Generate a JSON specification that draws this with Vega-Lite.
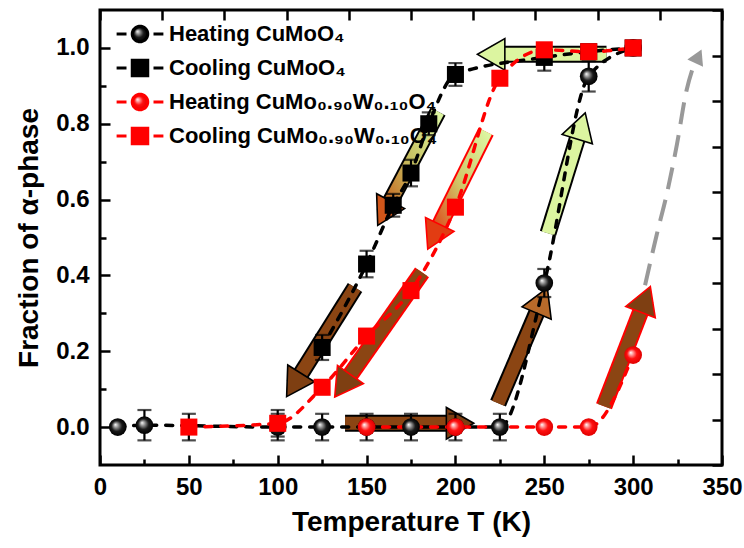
{
  "$schema": "https://vega.github.io/schema/vega-lite/v6.json",
  "width": 622,
  "height": 455,
  "autosize": "none",
  "padding": {"left": 100, "top": 10, "right": 22, "bottom": 83},
  "background": "white",
  "config": {
    "view": {"stroke": "#000000", "strokeWidth": 3},
    "font": "Liberation Sans",
    "axis": {"grid": false, "domain": false, "tickColor": "#000000", "tickWidth": 2.5, "labelFlush": false, "labelOverlap": false}
  },
  "resolve": {"axis": {"x": "independent", "y": "independent"}},
  "datasets": {
    "pts": [
      {"s": "Heating CuMoO₄", "T": 10, "v": 0.0, "err": null},
      {"s": "Heating CuMoO₄", "T": 25, "v": 0.005, "err": 0.04},
      {"s": "Heating CuMoO₄", "T": 100, "v": 0.0, "err": 0.035},
      {"s": "Heating CuMoO₄", "T": 125, "v": 0.0, "err": 0.035},
      {"s": "Heating CuMoO₄", "T": 150, "v": 0.0, "err": 0.035},
      {"s": "Heating CuMoO₄", "T": 175, "v": 0.0, "err": 0.035},
      {"s": "Heating CuMoO₄", "T": 200, "v": 0.0, "err": 0.035},
      {"s": "Heating CuMoO₄", "T": 225, "v": 0.0, "err": 0.035},
      {"s": "Heating CuMoO₄", "T": 250, "v": 0.38, "err": 0.037},
      {"s": "Heating CuMoO₄", "T": 275, "v": 0.925, "err": 0.04},
      {"s": "Heating CuMoO₄", "T": 300, "v": 1.0, "err": null},
      {"s": "Cooling CuMoO₄", "T": 125, "v": 0.21, "err": 0.033},
      {"s": "Cooling CuMoO₄", "T": 150, "v": 0.43, "err": 0.035},
      {"s": "Cooling CuMoO₄", "T": 165, "v": 0.585, "err": 0.03},
      {"s": "Cooling CuMoO₄", "T": 175, "v": 0.67, "err": 0.035},
      {"s": "Cooling CuMoO₄", "T": 185, "v": 0.8, "err": 0.03},
      {"s": "Cooling CuMoO₄", "T": 200, "v": 0.93, "err": 0.03},
      {"s": "Cooling CuMoO₄", "T": 250, "v": 0.975, "err": 0.035},
      {"s": "Cooling CuMoO₄", "T": 275, "v": 0.99, "err": null},
      {"s": "Cooling CuMoO₄", "T": 300, "v": 1.0, "err": null},
      {"s": "Heating CuMo₀.₉₀W₀.₁₀O₄", "T": 150, "v": 0.0, "err": null},
      {"s": "Heating CuMo₀.₉₀W₀.₁₀O₄", "T": 200, "v": 0.0, "err": null},
      {"s": "Heating CuMo₀.₉₀W₀.₁₀O₄", "T": 250, "v": 0.0, "err": null},
      {"s": "Heating CuMo₀.₉₀W₀.₁₀O₄", "T": 275, "v": 0.0, "err": null},
      {"s": "Heating CuMo₀.₉₀W₀.₁₀O₄", "T": 300, "v": 0.19, "err": null},
      {"s": "Cooling CuMo₀.₉₀W₀.₁₀O₄", "T": 50, "v": 0.0, "err": 0.035},
      {"s": "Cooling CuMo₀.₉₀W₀.₁₀O₄", "T": 100, "v": 0.01, "err": 0.035},
      {"s": "Cooling CuMo₀.₉₀W₀.₁₀O₄", "T": 125, "v": 0.105, "err": null},
      {"s": "Cooling CuMo₀.₉₀W₀.₁₀O₄", "T": 150, "v": 0.24, "err": null},
      {"s": "Cooling CuMo₀.₉₀W₀.₁₀O₄", "T": 175, "v": 0.36, "err": null},
      {"s": "Cooling CuMo₀.₉₀W₀.₁₀O₄", "T": 200, "v": 0.58, "err": null},
      {"s": "Cooling CuMo₀.₉₀W₀.₁₀O₄", "T": 225, "v": 0.92, "err": null},
      {"s": "Cooling CuMo₀.₉₀W₀.₁₀O₄", "T": 250, "v": 0.995, "err": null},
      {"s": "Cooling CuMo₀.₉₀W₀.₁₀O₄", "T": 275, "v": 0.99, "err": null},
      {"s": "Cooling CuMo₀.₉₀W₀.₁₀O₄", "T": 300, "v": 1.0, "err": null}
    ],
    "arrows": [
      {"id": 1, "t": 143.5, "v": 0.368, "ht": 109.1, "hv": 0.111, "heading": 212, "edge": "k", "body": "brown", "head": "brown"},
      {"id": 2, "t": 190.2, "v": 0.832, "ht": 159.9, "hv": 0.564, "heading": 208, "edge": "k", "body": "gradO", "head": "orange"},
      {"id": 3, "t": 217.2, "v": 0.779, "ht": 187.8, "hv": 0.502, "heading": 206, "edge": "r", "body": "gradR", "head": "red"},
      {"id": 4, "t": 181.2, "v": 0.408, "ht": 136.5, "hv": 0.109, "heading": 215, "edge": "r", "body": "brown", "head": "brown"},
      {"id": 5, "t": 137.9, "v": 0.01, "ht": 202.6, "hv": 0.01, "heading": 90, "edge": "k", "body": "brown", "head": "brown"},
      {"id": 6, "t": 224.0, "v": 0.063, "ht": 248.7, "hv": 0.334, "heading": 23, "edge": "k", "body": "brown", "head": "tan"},
      {"id": 7, "t": 252.1, "v": 0.511, "ht": 270.8, "hv": 0.794, "heading": 17, "edge": "k", "body": "green", "head": "green"},
      {"id": 8, "t": 285.0, "v": 0.983, "ht": 220.1, "hv": 0.983, "heading": 270, "edge": "k", "body": "green", "head": "green"},
      {"id": 9, "t": 283.6, "v": 0.055, "ht": 306.9, "hv": 0.337, "heading": 21, "edge": "r", "body": "brown", "head": "brown"}
    ],
    "grey": [
      {"t": 306.7, "v": 0.374},
      {"t": 313.4, "v": 0.51},
      {"t": 319.0, "v": 0.616},
      {"t": 324.7, "v": 0.747},
      {"t": 330.0, "v": 0.887},
      {"t": 334.5, "v": 0.96}
    ],
    "greyhead": [{"t": 336.7, "v": 0.978, "heading": 25}]
  },
  "layer": [
    {
      "data": {"name": "arrows"},
      "mark": {"type": "rule", "strokeWidth": 17, "strokeCap": "butt"},
      "encoding": {
        "x": {"field": "t", "type": "quantitative", "scale": {"domain": [0, 350], "nice": false, "zero": false}, "axis": null},
        "y": {"field": "v", "type": "quantitative", "scale": {"domain": [-0.1, 1.1], "nice": false, "zero": false}, "axis": null},
        "x2": {"field": "ht"},
        "y2": {"field": "hv"},
        "stroke": {"field": "edge", "type": "nominal", "scale": {"domain": ["k", "r", "brown", "green"], "range": ["#000000", "#ff0000", "#8b4513", "#dcf5a0"]}, "legend": null}
      }
    },
    {
      "data": {"name": "arrows"},
      "transform": [{"filter": "datum.body === 'brown' || datum.body === 'green'"}],
      "mark": {"type": "rule", "strokeWidth": 13, "strokeCap": "butt"},
      "encoding": {
        "x": {"field": "t", "type": "quantitative", "axis": null},
        "y": {"field": "v", "type": "quantitative", "axis": null},
        "x2": {"field": "ht"},
        "y2": {"field": "hv"},
        "stroke": {"field": "body", "type": "nominal", "legend": null}
      }
    },
    {
      "data": {"name": "arrows"},
      "transform": [{"filter": "datum.body === 'gradO'"}],
      "mark": {"type": "rule", "strokeWidth": 13, "strokeCap": "butt",
        "stroke": {"gradient": "linear", "x1": 1, "y1": 0, "x2": 0, "y2": 1, "stops": [{"offset": 0, "color": "#dcf5a0"}, {"offset": 0.5, "color": "#c8c060"}, {"offset": 1, "color": "#c85a18"}]}},
      "encoding": {
        "x": {"field": "t", "type": "quantitative", "axis": null},
        "y": {"field": "v", "type": "quantitative", "axis": null},
        "x2": {"field": "ht"},
        "y2": {"field": "hv"}
      }
    },
    {
      "data": {"name": "arrows"},
      "transform": [{"filter": "datum.body === 'gradR'"}],
      "mark": {"type": "rule", "strokeWidth": 13, "strokeCap": "butt",
        "stroke": {"gradient": "linear", "x1": 1, "y1": 0, "x2": 0, "y2": 1, "stops": [{"offset": 0, "color": "#dcf5a0"}, {"offset": 0.5, "color": "#d0c868"}, {"offset": 1, "color": "#e03a10"}]}},
      "encoding": {
        "x": {"field": "t", "type": "quantitative", "axis": null},
        "y": {"field": "v", "type": "quantitative", "axis": null},
        "x2": {"field": "ht"},
        "y2": {"field": "hv"}
      }
    },
    {
      "data": {"name": "arrows"},
      "mark": {"type": "point", "shape": "triangle-up", "filled": true, "size": 1000, "strokeWidth": 1.6, "opacity": 1},
      "encoding": {
        "x": {"field": "ht", "type": "quantitative", "axis": {"orient": "top", "values": [0, 35, 70, 105, 140, 175, 210, 245, 280, 315, 350], "labels": false, "tickSize": -10, "title": null}},
        "y": {"field": "hv", "type": "quantitative", "axis": {"orient": "right", "values": [-0.1, 0.02, 0.14, 0.26, 0.38, 0.5, 0.62, 0.74, 0.86, 0.98, 1.1], "labels": false, "tickSize": -10, "title": null}},
        "angle": {"field": "heading", "type": "quantitative", "scale": null},
        "fill": {"field": "head", "type": "nominal", "scale": {"domain": ["brown", "green", "orange", "red", "tan"], "range": ["#7e3f12", "#dcf5a0", "#d0561a", "#e23c12", "#b86a2a"]}, "legend": null},
        "stroke": {"field": "edge", "type": "nominal", "legend": null}
      }
    },
    {
      "data": {"name": "grey"},
      "mark": {"type": "line", "color": "#999999", "strokeWidth": 4, "strokeDash": [22, 11], "interpolate": "monotone"},
      "encoding": {
        "x": {"field": "t", "type": "quantitative", "axis": {"orient": "bottom", "values": [25, 75, 125, 175, 225, 275, 325], "labels": false, "tickSize": -6, "title": null}},
        "y": {"field": "v", "type": "quantitative", "axis": {"orient": "left", "values": [0.1, 0.3, 0.5, 0.7, 0.9], "labels": false, "tickSize": -6, "title": null}}
      }
    },
    {
      "data": {"name": "greyhead"},
      "mark": {"type": "point", "shape": "triangle-up", "filled": true, "size": 300, "color": "#999999", "opacity": 1},
      "encoding": {
        "x": {"field": "t", "type": "quantitative", "axis": null},
        "y": {"field": "v", "type": "quantitative", "axis": null},
        "angle": {"field": "heading", "type": "quantitative", "scale": null}
      }
    },
    {
      "data": {"name": "pts"},
      "mark": {"type": "line", "strokeWidth": 3.5, "strokeDash": [7, 9], "strokeCap": "round", "interpolate": "monotone"},
      "encoding": {
        "x": {"field": "T", "type": "quantitative", "axis": {"orient": "bottom", "values": [0, 50, 100, 150, 200, 250, 300, 350], "tickSize": -10, "labelFontSize": 24, "labelFontWeight": "bold", "labelColor": "#000000", "labelPadding": 20, "title": "Temperature T (K)", "titleFontSize": 28, "titleFontWeight": "bold", "titleColor": "#000000", "titlePadding": 9}},
        "y": {"field": "v", "type": "quantitative", "axis": {"orient": "left", "values": [0, 0.2, 0.4, 0.6, 0.8, 1.0], "format": ".1f", "tickSize": -10, "labelFontSize": 24, "labelFontWeight": "bold", "labelColor": "#000000", "labelPadding": 21, "title": "Fraction of α-phase", "titleFontSize": 28, "titleFontWeight": "bold", "titleColor": "#000000", "titlePadding": 12}},
        "color": {
          "field": "s", "type": "nominal",
          "scale": {"domain": ["Heating CuMoO₄", "Cooling CuMoO₄", "Heating CuMo₀.₉₀W₀.₁₀O₄", "Cooling CuMo₀.₉₀W₀.₁₀O₄"], "range": ["#000000", "#000000", "#ff0000", "#ff0000"]},
          "legend": {
            "title": null, "orient": "none", "legendX": 29, "legendY": 13, "padding": 0,
            "symbolSize": 324, "rowPadding": 4, "labelOffset": 18, "labelLimit": 500,
            "labelFontSize": 22, "labelFontWeight": "bold", "labelColor": "#000000",
            "encode": {
              "symbols": {
                "update": {
                  "shape": [
                    {"test": "datum.value === 'Heating CuMoO₄' || datum.value === 'Heating CuMo₀.₉₀W₀.₁₀O₄'", "value": "M-2.6,0L-1.5,0M1.5,0L2.6,0M-0.85,0A0.85,0.85,0,1,1,0.85,0A0.85,0.85,0,1,1,-0.85,0Z"},
                    {"value": "M-2.6,0L-1.5,0M1.5,0L2.6,0M-0.85,-0.85L0.85,-0.85L0.85,0.85L-0.85,0.85Z"}
                  ],
                  "fill": [
                    {"test": "datum.value === 'Heating CuMoO₄'", "value": {"gradient": "radial", "x1": 0.442, "y1": 0.442, "r1": 0, "x2": 0.5, "y2": 0.5, "r2": 0.165, "stops": [{"offset": 0, "color": "#ffffff"}, {"offset": 0.25, "color": "#9a9a9a"}, {"offset": 0.6, "color": "#1a1a1a"}, {"offset": 1, "color": "#000000"}]}},
                    {"test": "datum.value === 'Heating CuMo₀.₉₀W₀.₁₀O₄'", "value": {"gradient": "radial", "x1": 0.442, "y1": 0.442, "r1": 0, "x2": 0.5, "y2": 0.5, "r2": 0.165, "stops": [{"offset": 0, "color": "#ffffff"}, {"offset": 0.25, "color": "#ff9090"}, {"offset": 0.55, "color": "#ff1010"}, {"offset": 1, "color": "#e00000"}]}},
                    {"test": "datum.value === 'Cooling CuMoO₄'", "value": "#000000"},
                    {"value": "#ff0000"}
                  ],
                  "stroke": [
                    {"test": "datum.value === 'Heating CuMoO₄' || datum.value === 'Cooling CuMoO₄'", "value": "#000000"},
                    {"value": "#ff0000"}
                  ],
                  "strokeWidth": {"value": 3.2},
                  "strokeDash": {"value": [1, 0]},
                  "opacity": {"value": 1},
                  "fillOpacity": {"value": 1},
                  "size": {"value": 324}
                }
              }
            }
          }
        }
      }
    },
    {
      "data": {"name": "pts"},
      "transform": [{"filter": "isValid(datum.err)"}],
      "mark": {"type": "errorbar", "ticks": {"size": 14, "thickness": 2.2, "color": "#000000"}, "rule": {"strokeWidth": 2.2, "color": "#000000"}, "color": "#000000"},
      "encoding": {
        "x": {"field": "T", "type": "quantitative", "axis": null},
        "y": {"field": "v", "type": "quantitative", "axis": null},
        "yError": {"field": "err"}
      }
    },
    {
      "data": {"name": "pts"},
      "transform": [{"filter": "datum.s === 'Heating CuMoO₄'"}],
      "mark": {"type": "point", "shape": "circle", "filled": true, "size": 314, "strokeWidth": 0, "opacity": 1,
        "fill": {"gradient": "radial", "x1": 0.36, "y1": 0.36, "r1": 0, "x2": 0.5, "y2": 0.5, "r2": 0.5, "stops": [{"offset": 0, "color": "#ffffff"}, {"offset": 0.25, "color": "#9a9a9a"}, {"offset": 0.6, "color": "#1a1a1a"}, {"offset": 1, "color": "#000000"}]}},
      "encoding": {
        "x": {"field": "T", "type": "quantitative", "axis": null},
        "y": {"field": "v", "type": "quantitative", "axis": null}
      }
    },
    {
      "data": {"name": "pts"},
      "transform": [{"filter": "datum.s === 'Cooling CuMoO₄'"}],
      "mark": {"type": "point", "shape": "square", "filled": true, "size": 290, "strokeWidth": 0, "opacity": 1, "fill": "#000000"},
      "encoding": {
        "x": {"field": "T", "type": "quantitative", "axis": null},
        "y": {"field": "v", "type": "quantitative", "axis": null}
      }
    },
    {
      "data": {"name": "pts"},
      "transform": [{"filter": "datum.s === 'Heating CuMo₀.₉₀W₀.₁₀O₄'"}],
      "mark": {"type": "point", "shape": "circle", "filled": true, "size": 314, "strokeWidth": 0, "opacity": 1,
        "fill": {"gradient": "radial", "x1": 0.36, "y1": 0.36, "r1": 0, "x2": 0.5, "y2": 0.5, "r2": 0.5, "stops": [{"offset": 0, "color": "#ffffff"}, {"offset": 0.25, "color": "#ff9090"}, {"offset": 0.55, "color": "#ff1010"}, {"offset": 1, "color": "#e00000"}]}},
      "encoding": {
        "x": {"field": "T", "type": "quantitative", "axis": null},
        "y": {"field": "v", "type": "quantitative", "axis": null}
      }
    },
    {
      "data": {"name": "pts"},
      "transform": [{"filter": "datum.s === 'Cooling CuMo₀.₉₀W₀.₁₀O₄'"}],
      "mark": {"type": "point", "shape": "square", "filled": true, "size": 290, "strokeWidth": 0, "opacity": 1, "fill": "#ff0000"},
      "encoding": {
        "x": {"field": "T", "type": "quantitative", "axis": null},
        "y": {"field": "v", "type": "quantitative", "axis": null}
      }
    }
  ]
}
